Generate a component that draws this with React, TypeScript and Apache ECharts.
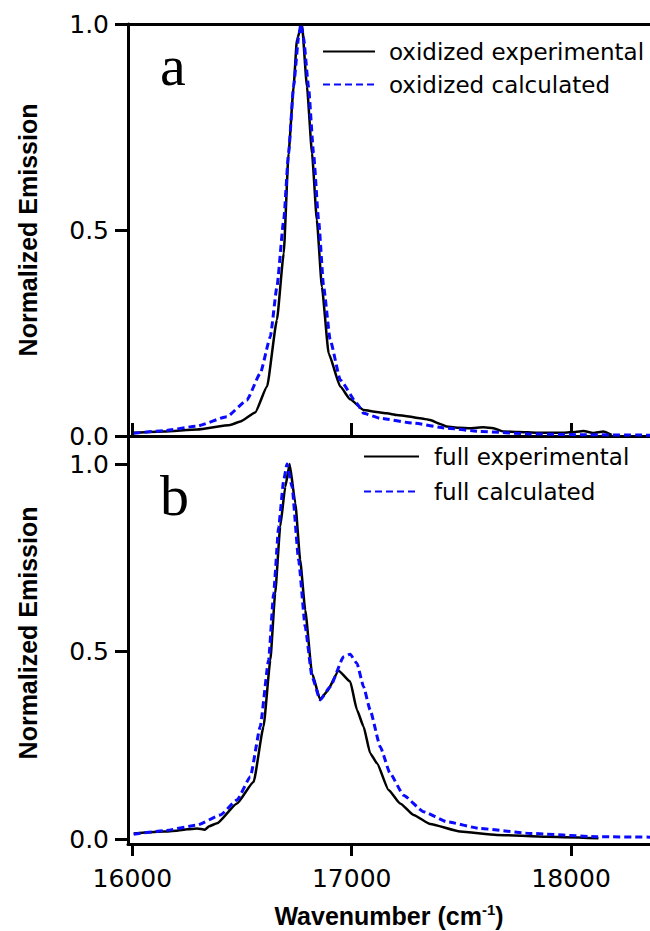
import React, { useEffect, useRef } from "react";
import * as echarts from "echarts";

// Panel a: oxidized
const oxExpWn = [16006, 16143, 16295, 16446, 16492, 16560, 16614, 16659, 16690, 16712, 16735, 16750, 16773, 16796, 16819, 16841, 16864, 16895, 16948, 16993, 17054, 17115, 17160, 17206, 17251, 17312, 17358, 17400, 17434, 17490, 17540, 17600, 17646, 17692, 17760, 17844, 17966, 18020, 18056, 18102, 18147, 18185];
const oxExpVal = [0.008, 0.011, 0.016, 0.027, 0.035, 0.057, 0.12, 0.282, 0.443, 0.686, 0.848, 0.961, 1.0, 0.848, 0.686, 0.524, 0.362, 0.2, 0.12, 0.089, 0.063, 0.058, 0.055, 0.051, 0.048, 0.043, 0.039, 0.03, 0.023, 0.02, 0.019, 0.021, 0.019, 0.011, 0.01, 0.008, 0.008, 0.01, 0.012, 0.007, 0.011, 0.003];
const oxCalcWn = [16006, 16143, 16295, 16431, 16522, 16583, 16629, 16659, 16690, 16712, 16735, 16758, 16768, 16780, 16803, 16826, 16849, 16872, 16902, 16948, 17024, 17054, 17130, 17282, 17434, 17585, 17813, 18041, 18360];
const oxCalcVal = [0.0065, 0.013, 0.024, 0.047, 0.087, 0.152, 0.241, 0.362, 0.524, 0.686, 0.848, 0.969, 1.0, 0.969, 0.848, 0.686, 0.524, 0.362, 0.233, 0.136, 0.079, 0.055, 0.043, 0.031, 0.019, 0.011, 0.005, 0.003, 0.002];

// Panel b: full
const fullExpWn = [16006, 16143, 16200, 16250, 16295, 16330, 16350, 16386, 16477, 16553, 16598, 16629, 16651, 16674, 16697, 16717, 16743, 16765, 16788, 16819, 16856, 16887, 16940, 16993, 17024, 17054, 17084, 17115, 17168, 17221, 17282, 17358, 17494, 17661, 17889, 18125];
const fullExpVal = [0.015, 0.02, 0.022, 0.026, 0.028, 0.025, 0.034, 0.042, 0.095, 0.153, 0.3, 0.477, 0.655, 0.833, 0.939, 1.0, 0.895, 0.744, 0.611, 0.442, 0.372, 0.393, 0.449, 0.42, 0.344, 0.3, 0.229, 0.202, 0.131, 0.095, 0.064, 0.04, 0.02, 0.011, 0.006, 0.002];
const fullCalcWn = [16006, 16143, 16295, 16401, 16477, 16538, 16583, 16621, 16644, 16667, 16690, 16705, 16728, 16758, 16788, 16819, 16856, 16902, 16963, 16993, 17024, 17054, 17084, 17130, 17175, 17236, 17327, 17434, 17585, 17813, 18117, 18360];
const fullCalcVal = [0.013, 0.022, 0.037, 0.064, 0.104, 0.166, 0.3, 0.477, 0.655, 0.833, 0.957, 1.0, 0.939, 0.744, 0.566, 0.433, 0.371, 0.406, 0.486, 0.493, 0.468, 0.406, 0.344, 0.246, 0.175, 0.117, 0.073, 0.046, 0.028, 0.015, 0.006, 0.005];

const seriesNames = ["oxidized experimental", "oxidized calculated", "full experimental", "full calculated"];
const xTicks = [16000, 17000, 18000];
const yTicks = [0, 0.5, 1.0];
const panelLabels = ["a", "b"];

const X_MIN = 15980;
const X_MAX = 18360;

const pairs = (xs: number[], ys: number[]) => xs.map((x, i) => [x, ys[i]]);

const TICK_FONT = "DejaVu Sans";
const TITLE_FONT = "Liberation Sans";

export default function App() {
  const ref = useRef<HTMLDivElement>(null);
  useEffect(() => {
    if (!ref.current) return;
    const chart = echarts.init(ref.current, null, { renderer: "svg" });
    const axisLine = { onZero: false, lineStyle: { color: "#000", width: 3 } };
    const tickStyle = { color: "#000", width: 3 };
    const blackLine = { color: "#000", width: 2.5, type: "solid" as const };
    const blueLine = { color: "#0a0aff", width: 3, type: [7, 4] as any };
    const labelStyle = { fontFamily: TICK_FONT, fontSize: 25, color: "#000" };
    const titleStyle = { fontFamily: TITLE_FONT, fontSize: 25, fontWeight: "bold" as const, color: "#000" };
    const legendCommon = {
      orient: "vertical", padding: 0, itemHeight: 14, selectedMode: false,
      itemStyle: { opacity: 0 },
    };
    const lineCommon = { type: "line", symbol: "none", smooth: 0.15, smoothMonotone: "x" };
    const option: any = {
      animation: false,
      backgroundColor: "#fff",
      grid: [
        { left: 128, right: 0, top: 24, height: 412 },
        { left: 128, right: 0, top: 436, height: 408 },
      ],
      xAxis: [
        {
          gridIndex: 0, type: "value", min: X_MIN, max: X_MAX, position: "bottom",
          axisLine, axisTick: { inside: true, length: 13, lineStyle: tickStyle, customValues: xTicks },
          axisLabel: { show: false }, splitLine: { show: false },
        },
        {
          gridIndex: 0, type: "value", min: X_MIN, max: X_MAX, position: "top",
          axisLine, axisTick: { show: false }, axisLabel: { show: false }, splitLine: { show: false },
        },
        {
          gridIndex: 1, type: "value", min: X_MIN, max: X_MAX, position: "bottom",
          axisLine, axisTick: { inside: false, length: 12, lineStyle: tickStyle, customValues: xTicks },
          axisLabel: { ...labelStyle, margin: 22, customValues: xTicks, formatter: (v: number) => String(v) },
          splitLine: { show: false },
          name: "Wavenumber (cm{sup|-1})",
          nameLocation: "middle",
          nameGap: 58,
          nameTextStyle: {
            ...titleStyle,
            rich: { sup: { fontFamily: TITLE_FONT, fontWeight: "bold", fontSize: 15, color: "#000", padding: [0, 0, 12, 0] } },
          },
        },
      ],
      yAxis: [
        {
          gridIndex: 0, type: "value", min: 0, max: 1,
          axisLine, axisTick: { inside: false, length: 13, lineStyle: tickStyle, customValues: yTicks },
          axisLabel: { ...labelStyle, margin: 19, customValues: yTicks, formatter: (v: number) => v.toFixed(1) },
          splitLine: { show: false },
          name: "Normalized Emission", nameLocation: "middle", nameGap: 88,
          nameTextStyle: { ...titleStyle },
        },
        {
          gridIndex: 1, type: "value", min: -0.0133, max: 1.0747,
          axisLine, axisTick: { inside: false, length: 13, lineStyle: tickStyle, customValues: yTicks },
          axisLabel: { ...labelStyle, margin: 19, customValues: yTicks, formatter: (v: number) => v.toFixed(1) },
          splitLine: { show: false },
          name: "Normalized Emission", nameLocation: "middle", nameGap: 88,
          nameTextStyle: { ...titleStyle, padding: [0, 0, 0, 14] },
        },
      ],
      legend: [
        {
          ...legendCommon,
          data: [seriesNames[0], seriesNames[1]], left: 322, top: 40,
          itemWidth: 52, itemGap: 10,
          textStyle: { fontFamily: TICK_FONT, fontSize: 23, lineHeight: 23, color: "#000", padding: [0, 0, 0, 9] },
        },
        {
          ...legendCommon,
          data: [seriesNames[2], seriesNames[3]], left: 363, top: 445,
          itemWidth: 55, itemGap: 12,
          textStyle: { fontFamily: TICK_FONT, fontSize: 23, lineHeight: 23, color: "#000", padding: [0, 0, 0, 10] },
        },
      ],
      series: [
        { ...lineCommon, name: seriesNames[0], xAxisIndex: 0, yAxisIndex: 0, data: pairs(oxExpWn, oxExpVal), lineStyle: blackLine, itemStyle: { color: "#000" } },
        { ...lineCommon, name: seriesNames[1], xAxisIndex: 0, yAxisIndex: 0, data: pairs(oxCalcWn, oxCalcVal), lineStyle: blueLine, itemStyle: { color: "#0a0aff" } },
        { ...lineCommon, name: seriesNames[2], xAxisIndex: 2, yAxisIndex: 1, data: pairs(fullExpWn, fullExpVal), lineStyle: blackLine, itemStyle: { color: "#000" } },
        { ...lineCommon, name: seriesNames[3], xAxisIndex: 2, yAxisIndex: 1, data: pairs(fullCalcWn, fullCalcVal), lineStyle: blueLine, itemStyle: { color: "#0a0aff" } },
      ],
      graphic: [
        { type: "text", left: 160, top: 36, style: { text: panelLabels[0], font: "58px 'Liberation Serif'", fill: "#000" } },
        { type: "text", left: 160, top: 466, style: { text: panelLabels[1], font: "58px 'Liberation Serif'", fill: "#000" } },
      ],
    };
    chart.setOption(option);
    return () => chart.dispose();
  }, []);
  return (
    <div
      ref={ref}
      style={{ position: "fixed", left: 0, top: 0, width: 650, height: 931, background: "#fff" }}
    />
  );
}
